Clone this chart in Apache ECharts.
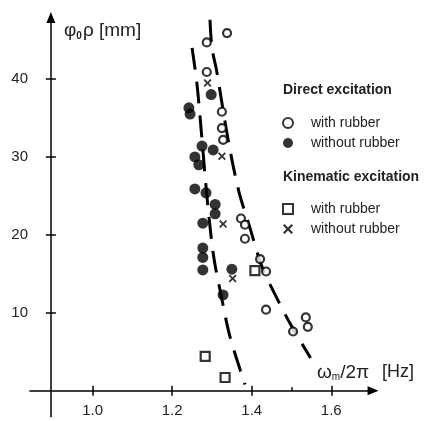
<!DOCTYPE html>
<html>
<head>
<meta charset="UTF-8">
<title>phi0 rho vs frequency</title>
<script src="https://cdn.jsdelivr.net/npm/echarts@6.0.0/dist/echarts.min.js"></script>
</head>
<body style="margin:0;background:#fff">
<div id="main" style="width:427px;height:421px;"></div>
<script>
// direct excitation, with rubber (open circles)
var dirWithX = [1.287, 1.338, 1.287, 1.325, 1.325, 1.328, 1.373, 1.383, 1.383, 1.421, 1.436, 1.436, 1.536, 1.541, 1.504];
var dirWithY = [44.7, 45.9, 40.9, 35.8, 33.7, 32.2, 22.1, 21.3, 19.5, 16.9, 15.3, 10.4, 9.4, 8.2, 7.6];
// direct excitation, without rubber (filled circles)
var dirWithoutX = [1.298, 1.242, 1.245, 1.275, 1.303, 1.257, 1.267, 1.257, 1.285, 1.308, 1.308, 1.277, 1.277, 1.277, 1.277, 1.350, 1.328];
var dirWithoutY = [38.0, 36.3, 35.5, 31.4, 30.9, 30.0, 29.0, 25.9, 25.4, 23.9, 22.7, 21.5, 18.3, 17.1, 15.5, 15.6, 12.3];
// kinematic excitation
var kinWithX = [1.408, 1.283, 1.333];
var kinWithY = [15.4, 4.4, 1.7];
var kinWithoutX = [1.289, 1.325, 1.328, 1.352];
var kinWithoutY = [39.5, 30.1, 21.4, 14.4];
// dashed curves
var leftCurveX = [1.250, 1.262, 1.272, 1.282, 1.292, 1.305, 1.322, 1.345, 1.383];
var leftCurveY = [44, 39.5, 34, 28, 22.5, 17, 12.5, 7, 0.8];
var rightCurveX = [1.295, 1.300, 1.312, 1.328, 1.345, 1.368, 1.395, 1.425, 1.460, 1.500, 1.548];
var rightCurveY = [47.6, 44, 41, 36, 31, 25.5, 21, 16, 12.2, 8.3, 4.2];
// axis ticks
var xTicks = [1.0, 1.2, 1.4, 1.6];
var xMinorTicks = [1.5];
var yTicks = [10, 20, 30, 40];

function zip(xs, ys) {
	return xs.map(function (x, i) { return [x, ys[i]]; });
}

var FONT = 'Liberation Sans';
var crossPath = 'path://M0,1.6L1.6,0L5,3.4L8.4,0L10,1.6L6.6,5L10,8.4L8.4,10L5,6.6L1.6,10L0,8.4L3.4,5Z';
var squarePath = 'path://M0,0L10,0L10,10L0,10Z';

var yMin = -3.5, yMax = 48.6;
var gridTop = 12, gridBottom = 3, chartH = 421;
var yAxisAt = 0.895;
var tickHalfX = 0.0126;
var tickHalfY = 0.64;
// pixel distance from the grid bottom up to y = 0, so the x axis labels sit under the y=0 line
var zeroOffset = -(0 - yMin) / (yMax - yMin) * (chartH - gridTop - gridBottom);

var axisLines = [
	[{ coord: [0.841, 0], symbol: 'none' }, { coord: [1.705, 0], symbol: 'triangle', symbolSize: [9, 11] }],
	[{ coord: [yAxisAt, -3.4], symbol: 'none' }, { coord: [yAxisAt, 47.9], symbol: 'triangle', symbolSize: [9, 11] }]
];
xTicks.forEach(function (v) {
	axisLines.push([{ coord: [v, -tickHalfY], symbol: 'none' }, { coord: [v, tickHalfY], symbol: 'none' }]);
});
xMinorTicks.forEach(function (v) {
	axisLines.push([{ coord: [v, 0], symbol: 'none' }, { coord: [v, tickHalfY * 0.7], symbol: 'none' }]);
});
yTicks.forEach(function (v) {
	axisLines.push([{ coord: [yAxisAt - tickHalfX, v], symbol: 'none' }, { coord: [yAxisAt + tickHalfX, v], symbol: 'none' }]);
});

var myChart = echarts.init(document.getElementById('main'));

var legendText = { fontFamily: FONT, fontSize: 14, color: '#222', padding: [0, 0, 0, 13] };

var option = {
	animation: false,
	backgroundColor: '#fff',
	textStyle: { fontFamily: FONT },
	grid: { left: 29, right: 48, top: gridTop, bottom: gridBottom, containLabel: false, outerBoundsMode: 'none' },
	title: [
		{ text: 'Direct excitation', left: 283, top: 83, padding: 0,
		  textStyle: { fontFamily: FONT, fontSize: 14, fontWeight: 'bold', color: '#222' } },
		{ text: 'Kinematic excitation', left: 283, top: 170, padding: 0,
		  textStyle: { fontFamily: FONT, fontSize: 14, fontWeight: 'bold', color: '#222' } },
		{ text: '{a|φ}{b|0}{a|ρ [mm]}', left: 64, top: 21, padding: 0,
		  textStyle: { fontWeight: 'normal', rich: {
			a: { fontFamily: FONT, fontSize: 19, fontWeight: 'normal', color: '#222' },
			b: { fontFamily: FONT, fontSize: 10, fontWeight: 'bold', color: '#222', padding: [10, 1, 0, 0] }
		  } } },
		{ text: '{a|ω}{b|m}{a|/2π}{c| [Hz]}', left: 317, top: 363, padding: 0,
		  textStyle: { fontWeight: 'normal', rich: {
			a: { fontFamily: FONT, fontSize: 19, fontWeight: 'normal', color: '#222' },
			b: { fontFamily: FONT, fontSize: 10, fontWeight: 'normal', color: '#222', padding: [9, 0, 0, 0] },
			c: { fontFamily: FONT, fontSize: 18, fontWeight: 'normal', color: '#222', padding: [0, 0, 0, 8] }
		  } } }
	],
	legend: [{
		orient: 'vertical', left: 282, top: 116, itemWidth: 10, itemHeight: 10, itemGap: 6,
		padding: 0, selectedMode: false,
		data: ['Direct: with rubber', 'Direct: without rubber'],
		formatter: function (n) { return n.split(': ')[1]; },
		textStyle: legendText
	}, {
		orient: 'vertical', left: 282, top: 202, itemWidth: 10, itemHeight: 10, itemGap: 6,
		padding: 0, selectedMode: false,
		data: ['Kinematic: with rubber', 'Kinematic: without rubber'],
		formatter: function (n) { return n.split(': ')[1]; },
		textStyle: legendText
	}],
	xAxis: {
		type: 'value', min: 0.84, max: 1.72,
		offset: zeroOffset,
		axisLine: { show: false, onZero: false },
		axisTick: { show: false },
		splitLine: { show: false },
		axisLabel: { customValues: xTicks, margin: 13, fontSize: 15, color: '#222', fontFamily: FONT,
			formatter: function (v) { return v.toFixed(1); } }
	},
	yAxis: {
		type: 'value', min: yMin, max: yMax,
		axisLine: { show: false, onZero: false },
		axisTick: { show: false },
		splitLine: { show: false },
		axisLabel: { customValues: yTicks, margin: 1, fontSize: 15, color: '#222', fontFamily: FONT }
	},
	series: [
		{
			name: 'axes', type: 'line', data: [], silent: true,
			markLine: {
				silent: true, animation: false,
				label: { show: false },
				lineStyle: { color: '#000', width: 1.5, type: 'solid' },
				emphasis: { disabled: true },
				data: axisLines
			}
		},
		{
			name: 'left curve', type: 'line', data: zip(leftCurveX, leftCurveY), smooth: 0.3,
			showSymbol: false, silent: true, z: 2,
			lineStyle: { color: '#000', width: 3, type: [22, 12] }
		},
		{
			name: 'right curve', type: 'line', data: zip(rightCurveX, rightCurveY), smooth: 0.3,
			showSymbol: false, silent: true, z: 2,
			lineStyle: { color: '#000', width: 3, type: [22, 12] }
		},
		{
			name: 'Direct: with rubber', type: 'scatter', data: zip(dirWithX, dirWithY), z: 4,
			symbol: 'circle', symbolSize: 8,
			itemStyle: { color: '#fff', borderColor: '#000', borderWidth: 2.2 }
		},
		{
			name: 'Direct: without rubber', type: 'scatter', data: zip(dirWithoutX, dirWithoutY), z: 3,
			symbol: 'circle', symbolSize: 11,
			itemStyle: { color: '#000' }
		},
		{
			name: 'Kinematic: with rubber', type: 'scatter', data: zip(kinWithX, kinWithY), z: 4,
			symbol: squarePath, symbolSize: 9,
			itemStyle: { color: '#fff', borderColor: '#000', borderWidth: 2.2 }
		},
		{
			name: 'Kinematic: without rubber', type: 'scatter', data: zip(kinWithoutX, kinWithoutY), z: 4,
			symbol: crossPath, symbolSize: 8,
			itemStyle: { color: '#000' }
		}
	]
};
myChart.setOption(option);
</script>
</body>
</html>
